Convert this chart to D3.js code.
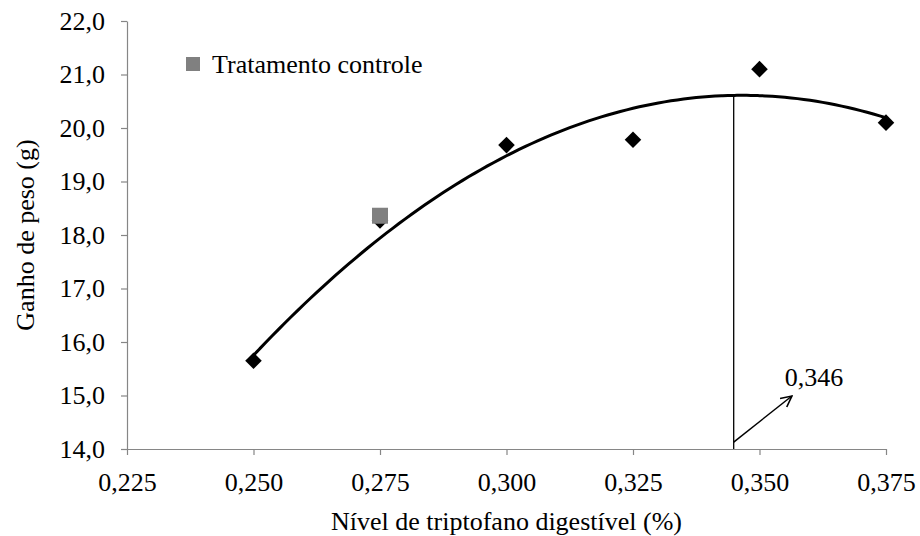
<!DOCTYPE html>
<html>
<head>
<meta charset="utf-8">
<script src="https://cdn.jsdelivr.net/npm/d3@7"></script>
<style>
    body { margin: 0; background: #fff; }
    svg { display: block; }
    svg text { font-family: "Liberation Serif", "Times New Roman", "DejaVu Serif", serif; }
</style>
</head>
<body>
<svg id="chart"></svg>
<script>
// values
const levels = [0.250, 0.275, 0.300, 0.325, 0.350, 0.375];
const gains = [15.65, 18.27, 19.68, 19.78, 21.10, 20.10];
const controlLevel = [0.275];
const controlGain = [18.36];
const trendCoef = [-41.98, 361.2, -521.1];  // a + b*x + c*x^2
const optimumLevel = 0.3449;
const optimumLabel = "0,346";
const xTicks = [0.225, 0.250, 0.275, 0.300, 0.325, 0.350, 0.375];
const yTicks = [14, 15, 16, 17, 18, 19, 20, 21, 22];

const width = 920;
const height = 536;
const margin = {top: 21, right: 34, bottom: 87, left: 127};
const fontSize = 26;

const svg = d3.select("#chart")
    .attr("width", width)
    .attr("height", height);

const x = d3.scaleLinear()
    .domain([0.225, 0.375])
    .range([margin.left, width - margin.right]);

const y = d3.scaleLinear()
    .domain([14, 22])
    .range([height - margin.bottom, margin.top]);

const fmtX = v => d3.format(".3f")(v).replace(".", ",");
const fmtY = v => d3.format(".1f")(v).replace(".", ",");

// axes
const xAxis = svg.append("g")
    .attr("transform", `translate(0,${height - margin.bottom})`)
    .call(d3.axisBottom(x).tickValues(xTicks).tickFormat(fmtX).tickSizeInner(6).tickSizeOuter(0).tickPadding(18));

const yAxis = svg.append("g")
    .attr("transform", `translate(${margin.left},0)`)
    .call(d3.axisLeft(y).tickValues(yTicks).tickFormat(fmtY).tickSizeInner(6).tickSizeOuter(0).tickPadding(16));

[xAxis, yAxis].forEach(g => {
    g.attr("font-family", null);
    g.selectAll("path, line").attr("stroke", "#868686").attr("stroke-width", 1.2);
    g.selectAll("text")
        .attr("fill", "#000")
        .attr("font-size", fontSize);
});

// axis titles
svg.append("text")
    .attr("x", (x.range()[0] + x.range()[1]) / 2)
    .attr("y", 530)
    .attr("text-anchor", "middle")
    .attr("font-size", fontSize)
    .text("Nível de triptofano digestível (%)");

svg.append("text")
    .attr("transform", `translate(34,${(y.range()[0] + y.range()[1]) / 2}) rotate(-90)`)
    .attr("text-anchor", "middle")
    .attr("font-size", fontSize)
    .text("Ganho de peso (g)");

// quadratic trend
const trend = v => trendCoef[0] + trendCoef[1] * v + trendCoef[2] * v * v;
const trendX = d3.range(0, 101).map(i => levels[0] + (levels[levels.length - 1] - levels[0]) * i / 100);

svg.append("path")
    .datum(trendX)
    .attr("fill", "none")
    .attr("stroke", "#000")
    .attr("stroke-width", 3)
    .attr("d", d3.line().x(d => x(d)).y(d => y(trend(d))).curve(d3.curveBasis));

// optimum line and arrow
svg.append("line")
    .attr("x1", x(optimumLevel))
    .attr("x2", x(optimumLevel))
    .attr("y1", y(trend(0.3466)))
    .attr("y2", y(14))
    .attr("stroke", "#000")
    .attr("stroke-width", 1.3);

svg.append("defs").append("marker")
    .attr("id", "arrow")
    .attr("viewBox", "0 0 12 12")
    .attr("refX", 11)
    .attr("refY", 6)
    .attr("markerWidth", 13)
    .attr("markerHeight", 13)
    .attr("markerUnits", "userSpaceOnUse")
    .attr("orient", "auto")
    .append("path")
    .attr("d", "M1,1 L11,6 L1,11")
    .attr("fill", "none")
    .attr("stroke", "#000")
    .attr("stroke-width", 1.5);

svg.append("line")
    .attr("x1", x(optimumLevel))
    .attr("y1", y(14.13))
    .attr("x2", x(0.3564))
    .attr("y2", y(14.99))
    .attr("stroke", "#000")
    .attr("stroke-width", 1.5)
    .attr("marker-end", "url(#arrow)");

svg.append("text")
    .attr("x", x(0.355))
    .attr("y", y(15.18))
    .attr("font-size", fontSize)
    .text(optimumLabel);

// data points
const diamond = d3.symbol().type(d3.symbolDiamond2).size(175);

svg.selectAll(".pt")
    .data(levels)
    .enter().append("path")
    .attr("class", "pt")
    .attr("transform", (d, i) => `translate(${x(d)},${y(gains[i])})`)
    .attr("d", diamond)
    .attr("fill", "#000");

svg.selectAll(".ctrl")
    .data(controlLevel)
    .enter().append("rect")
    .attr("class", "ctrl")
    .attr("x", d => x(d) - 8)
    .attr("y", (d, i) => y(controlGain[i]) - 8)
    .attr("width", 16)
    .attr("height", 16)
    .attr("fill", "#808080");

// legend
svg.append("rect")
    .attr("x", 186)
    .attr("y", 57)
    .attr("width", 14)
    .attr("height", 14)
    .attr("fill", "#808080");

svg.append("text")
    .attr("x", 212)
    .attr("y", 73)
    .attr("font-size", fontSize)
    .text("Tratamento controle");
</script>
</body>
</html>
